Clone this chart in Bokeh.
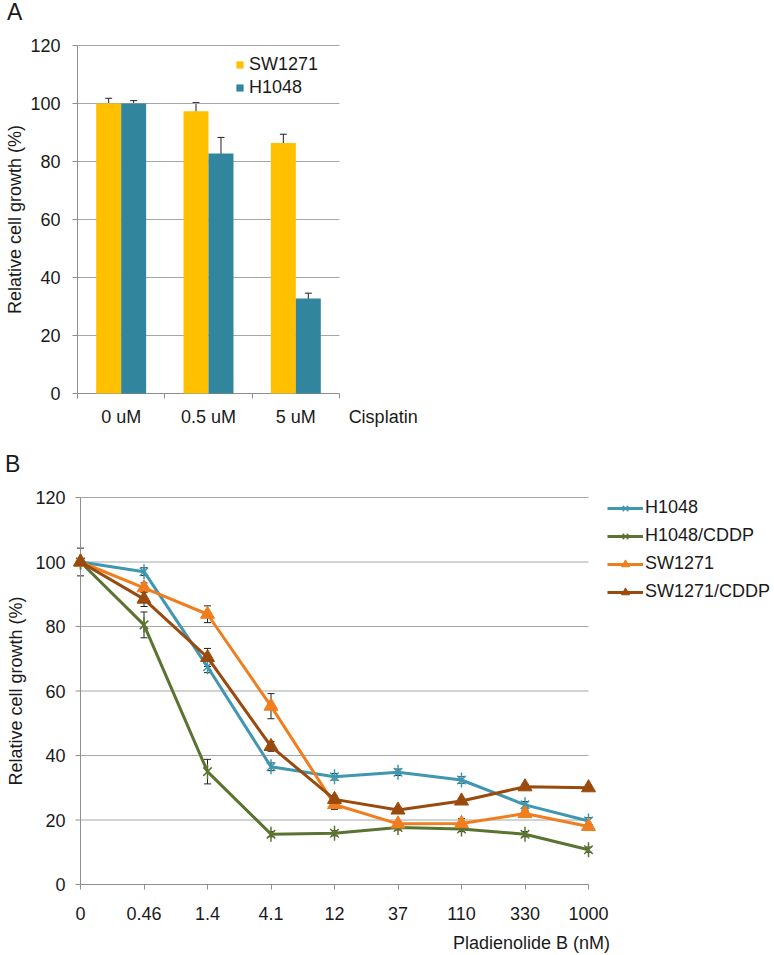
import math
from bokeh.plotting import figure
from bokeh.models import (Range1d, FixedTicker, Whisker, TeeHead, ColumnDataSource,
                          Legend, LegendItem, Div)
from bokeh.layouts import column
from bokeh.embed import file_html
from bokeh.resources import INLINE

# ---------------- data: panel A ----------------
cisplatin = ["0 uM", "0.5 uM", "5 uM"]
sw1271_a = [100.0, 97.3, 86.4]
sw1271_a_err = [1.8, 3.0, 3.0]
h1048_a = [100.0, 82.8, 32.8]
h1048_a_err = [1.0, 5.5, 1.8]

# ---------------- data: panel B ----------------
pladienolide = ["0", "0.46", "1.4", "4.1", "12", "37", "110", "330", "1000"]
h1048_b = [100.0, 97.0, 67.5, 36.5, 33.4, 34.8, 32.4, 24.7, 19.7]
h1048_b_err = [1.0, 1.2, 1.8, 1.2, 1.0, 1.0, 1.0, 1.0, 1.0]
h1048cddp_b = [100.0, 80.5, 35.0, 15.6, 15.9, 17.7, 17.2, 15.6, 10.8]
h1048cddp_b_err = [4.3, 4.0, 3.8, 0.8, 0.8, 0.8, 0.8, 0.8, 0.8]
sw1271_b = [100.0, 92.0, 83.8, 55.3, 24.8, 18.8, 18.9, 22.0, 18.0]
sw1271_b_err = [1.0, 1.5, 2.6, 3.9, 1.5, 0.8, 1.5, 1.0, 1.0]
sw1271cddp_b = [100.0, 88.5, 70.4, 42.8, 26.4, 23.1, 25.9, 30.3, 30.0]
sw1271cddp_b_err = [1.0, 2.3, 2.8, 1.5, 1.0, 0.8, 0.8, 0.8, 0.8]

y_ticks = [0, 20, 40, 60, 80, 100, 120]

FONT = "Liberation Sans"
FS = "18px"
TXT = "#1a1a1a"
GRID = "#a6a6a6"
AXIS = "#8e8e8e"
YELLOW = "#ffc000"
TEAL = "#31859c"
BLUE = "#3f97b1"
GREEN = "#5b7331"
ORANGE = "#f07d1e"
BROWN = "#9a4a0c"

LEFT = 70  # common left border (px) of both panels


def style_axis(ax):
    ax.major_label_text_font = FONT
    ax.major_label_text_font_size = FS
    ax.major_label_text_color = TXT
    ax.axis_label_text_font = FONT
    ax.axis_label_text_font_size = FS
    ax.axis_label_text_font_style = "normal"
    ax.axis_label_text_color = TXT
    ax.major_tick_line_color = AXIS
    ax.minor_tick_line_color = AXIS


def frame_lines(p, xmax, pxu):
    """grid lines, axis lines and y tick marks inside the data space"""
    gy = [t for t in y_ticks if t > 0]
    p.segment(x0=[0] * len(gy), x1=[xmax] * len(gy), y0=gy, y1=gy, line_color=GRID, line_width=1)
    p.segment(x0=[0], x1=[xmax], y0=[0], y1=[0], line_color=AXIS, line_width=1)
    p.segment(x0=[0], x1=[0], y0=[0], y1=[120], line_color=AXIS, line_width=1)
    p.segment(x0=[-5 / pxu] * len(y_ticks), x1=[0] * len(y_ticks), y0=y_ticks, y1=y_ticks,
              line_color=AXIS, line_width=1)


def text_div(text, width, height, size, line_height, pad_left):
    return Div(text=text, width=width, height=height, margin=0,
               styles={"font-family": FONT, "font-size": size, "line-height": line_height,
                       "padding-left": pad_left, "color": TXT, "overflow": "visible",
                       "white-space": "nowrap"})


# =============== Panel A ===============
ncat = len(cisplatin)
PXA = 87.33           # px per category
PVA = 2.9             # px per y unit
padA_x = 7 / PXA
padA_y = 2 / PVA
WA = 430
pA = figure(width=WA, height=415,
            x_range=Range1d(-padA_x, (WA - LEFT) / PXA - padA_x),
            y_range=Range1d(-padA_y, 120 + padA_y),
            output_backend="svg", toolbar_location=None,
            min_border_left=LEFT, min_border_right=0, min_border_top=18, min_border_bottom=45)
pA.outline_line_color = None
pA.xgrid.visible = False
pA.ygrid.visible = False
frame_lines(pA, ncat, PXA)

centers = [i + 0.5 for i in range(ncat)]
bw = 0.286
srcA = ColumnDataSource(dict(
    xs=[c - bw / 2 for c in centers], xh=[c + bw / 2 for c in centers],
    sw=sw1271_a, h=h1048_a,
    sw_up=[v + e for v, e in zip(sw1271_a, sw1271_a_err)],
    sw_lo=[v - e for v, e in zip(sw1271_a, sw1271_a_err)],
    h_up=[v + e for v, e in zip(h1048_a, h1048_a_err)],
    h_lo=[v - e for v, e in zip(h1048_a, h1048_a_err)],
))
rA1 = pA.vbar(x="xs", top="sw", width=bw, bottom=0, source=srcA, fill_color=YELLOW, line_color=None)
rA2 = pA.vbar(x="xh", top="h", width=bw, bottom=0, source=srcA, fill_color=TEAL, line_color=None)
for base, up, lo in (("xs", "sw_up", "sw_lo"), ("xh", "h_up", "h_lo")):
    w = Whisker(source=srcA, base=base, upper=up, lower=lo, dimension="height",
                line_color="#222222", line_width=1,
                upper_head=TeeHead(size=7, line_color="#222222", line_width=1),
                lower_head=TeeHead(size=7, line_color="#222222", line_width=1))
    pA.add_layout(w)

# x axis: category names at centres, tick marks between categories,
# the axis title "Cisplatin" sits on the same line to the right
cis_x = 3.5
axA = pA.xaxis[0]
axA.ticker = FixedTicker(ticks=centers + [cis_x], minor_ticks=list(range(ncat + 1)))
overA = {c: lab for c, lab in zip(centers, cisplatin)}
overA[cis_x] = "Cisplatin"
axA.major_label_overrides = overA
axA.major_tick_out = 0
axA.major_tick_in = 0
axA.minor_tick_out = 3
axA.minor_tick_in = 2
axA.axis_line_color = None
axA.major_label_standoff = 8
style_axis(axA)

ayA = pA.yaxis[0]
ayA.ticker = FixedTicker(ticks=y_ticks)
ayA.major_tick_out = 0
ayA.major_tick_in = 0
ayA.axis_line_color = None
ayA.major_label_standoff = 10
ayA.axis_label = "Relative cell growth (%)"
ayA.axis_label_standoff = 2
style_axis(ayA)

legA = Legend(items=[LegendItem(label="SW1271", renderers=[rA1]),
                     LegendItem(label="H1048", renderers=[rA2])],
              location=(165, 297), orientation="vertical",
              border_line_color=None, background_fill_alpha=0,
              padding=0, margin=0, glyph_width=9, glyph_height=9, label_height=16,
              spacing=2, label_standoff=5,
              label_text_font=FONT, label_text_font_size=FS, label_text_color=TXT)
pA.add_layout(legA)

# =============== Panel B ===============
npt = len(pladienolide)
PXU = 63.5            # px per x step
PXV = 387.0 / 120.0   # px per y unit
padx = 10 / PXU
pady = 2 / PXV
WB = 774
xs_b = list(range(npt))
pB = figure(width=WB, height=439,
            x_range=Range1d(-padx, (WB - LEFT) / PXU - padx),
            y_range=Range1d(-pady, 120 + pady),
            output_backend="svg", toolbar_location=None,
            min_border_left=LEFT, min_border_right=0, min_border_top=7, min_border_bottom=41)
pB.outline_line_color = None
pB.xgrid.visible = False
pB.ygrid.visible = False
frame_lines(pB, npt - 1, PXU)

series = [
    ("H1048", h1048_b, h1048_b_err, BLUE, "star"),
    ("H1048/CDDP", h1048cddp_b, h1048cddp_b_err, GREEN, "star"),
    ("SW1271", sw1271_b, sw1271_b_err, ORANGE, "tri"),
    ("SW1271/CDDP", sw1271cddp_b, sw1271cddp_b_err, BROWN, "tri"),
]
items = []
for name, vals, errs, col, mk in series:
    src = ColumnDataSource(dict(x=xs_b, y=vals,
                                up=[v + e for v, e in zip(vals, errs)],
                                lo=[v - e for v, e in zip(vals, errs)]))
    rl = pB.line(x="x", y="y", source=src, line_color=col, line_width=3)
    rends = [rl]
    if mk == "star":
        r1 = pB.scatter(x="x", y="y", source=src, marker="x", size=12, line_color=col, line_width=1.5)
        r2 = pB.scatter(x="x", y="y", source=src, marker="dash", size=15, angle=math.pi / 2,
                        line_color=col, line_width=1.5)
        rends += [r1, r2]
    else:
        r1 = pB.scatter(x="x", y="y", source=src, marker="triangle", size=14,
                        fill_color=col, line_color=col)
        rends += [r1]
    items.append(LegendItem(label=name, renderers=rends))
    w = Whisker(source=src, base="x", upper="up", lower="lo", dimension="height",
                line_color="#222222", line_width=1,
                upper_head=TeeHead(size=7, line_color="#222222", line_width=1),
                lower_head=TeeHead(size=7, line_color="#222222", line_width=1))
    pB.add_layout(w)

axB = pB.xaxis[0]
axB.ticker = FixedTicker(ticks=xs_b)
axB.major_label_overrides = {i: lab for i, lab in enumerate(pladienolide)}
axB.major_tick_out = 3
axB.major_tick_in = 2
axB.axis_line_color = None
axB.major_label_standoff = 17
style_axis(axB)

ayB = pB.yaxis[0]
ayB.ticker = FixedTicker(ticks=y_ticks)
ayB.major_tick_out = 0
ayB.major_tick_in = 0
ayB.axis_line_color = None
ayB.major_label_standoff = 5
ayB.axis_label = "Relative cell growth (%)"
ayB.axis_label_standoff = 6
style_axis(ayB)

legB = Legend(items=items, location=(537, 284), orientation="vertical",
              border_line_color=None, background_fill_alpha=0,
              padding=0, margin=0, glyph_width=36, glyph_height=20, label_height=20,
              spacing=7, label_standoff=2,
              label_text_font=FONT, label_text_font_size=FS, label_text_color=TXT)
pB.add_layout(legB)

# panel letters and the x-axis title of panel B
divA = text_div("A", 80, 25, "23px", "25px", "7px")
divB = text_div("B", 80, 48, "23px", "48px", "5px")
divP = text_div("Pladienolide B (nM)", 774, 28, FS, "32px", "453px")

layout = column(divA, pA, divB, pB, divP, spacing=0)
open("out.html", "w").write(file_html(layout, INLINE))
